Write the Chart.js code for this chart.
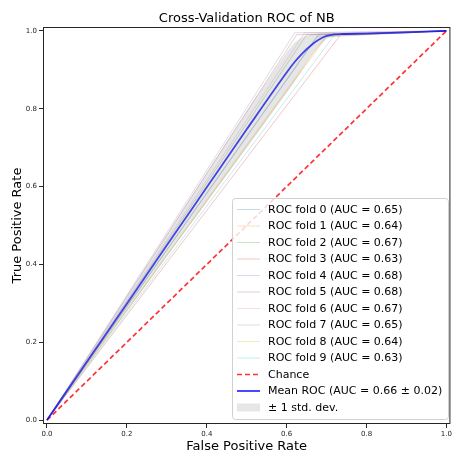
<!DOCTYPE html>
<html>
<head>
<meta charset="utf-8">
<script src="https://cdn.jsdelivr.net/npm/chart.js@4"></script>
<style>
  html, body { margin: 0; padding: 0; background: #fff; }
</style>
</head>
<body>
<canvas id="rocCanvas" width="454" height="453"></canvas>
<script>
// fold curves: (0,0) -> (fpr, tpr) -> (1,1)
var foldFpr = [0.68, 0.70, 0.65, 0.735, 0.62, 0.625, 0.645, 0.675, 0.70, 0.72];
var foldTpr = [0.99, 0.985, 0.99, 0.99, 0.995, 0.99, 0.995, 0.985, 0.99, 0.99];
var foldAuc = ['0.65', '0.64', '0.67', '0.63', '0.68', '0.68', '0.67', '0.65', '0.64', '0.63'];
var foldColors = ['31,119,180', '255,127,14', '44,160,44', '214,39,40', '148,103,189',
                  '140,86,75', '227,119,194', '127,127,127', '188,189,34', '23,190,207'];

var meanFpr = [0, 0.1, 0.2, 0.3, 0.4, 0.5, 0.6, 0.62, 0.64, 0.66, 0.68, 0.70, 0.72, 0.74, 0.8, 0.9, 1.0];
var meanTpr = [0, 0.150, 0.299, 0.449, 0.598, 0.747, 0.893, 0.920, 0.943, 0.962, 0.977, 0.987, 0.991, 0.992, 0.993, 0.996, 1.0];
var tprUpper = [0, 0.159, 0.318, 0.477, 0.636, 0.795, 0.945, 0.970, 0.984, 0.990, 0.994, 0.995, 0.995, 0.994, 0.995, 0.998, 1.0];
var tprLower = [0, 0.141, 0.280, 0.421, 0.560, 0.699, 0.841, 0.870, 0.902, 0.934, 0.960, 0.979, 0.987, 0.990, 0.991, 0.994, 1.0];

var tickVals = [0, 0.2, 0.4, 0.6, 0.8, 1.0];
var chartTitle = 'Cross-Validation ROC of NB';
var meanLabel = 'Mean ROC (AUC = 0.66 \u00b1 0.02)';
var bandLabel = '\u00b1 1 std. dev.';

function pts(xs, ys) {
    var out = [];
    for (var i = 0; i < xs.length; i++) out.push({x: xs[i], y: ys[i]});
    return out;
}

var datasets = [];
for (var i = 0; i < foldFpr.length; i++) {
    datasets.push({
        label: 'ROC fold ' + i + ' (AUC = ' + foldAuc[i] + ')',
        data: pts([0, foldFpr[i], 1], [0, foldTpr[i], 1]),
        borderColor: 'rgba(' + foldColors[i] + ',0.3)',
        borderWidth: 0.9,
        pointRadius: 0,
        fill: false,
        order: 20 - i
    });
}
datasets.push({
    label: 'Chance',
    data: pts([0, 1], [0, 1]),
    borderColor: 'rgba(255,0,0,0.8)',
    borderWidth: 1.7,
    borderDash: [5, 3],
    pointRadius: 0,
    fill: false,
    order: 5
});
datasets.push({
    label: meanLabel,
    data: pts(meanFpr, meanTpr),
    borderColor: 'rgba(0,0,255,0.8)',
    borderWidth: 1.8,
    cubicInterpolationMode: 'monotone',
    pointRadius: 0,
    fill: false,
    order: 4
});
datasets.push({
    label: '',
    data: pts(meanFpr, tprLower),
    borderWidth: 0,
    borderColor: 'rgba(0,0,0,0)',
    pointRadius: 0,
    fill: false,
    order: 3
});
datasets.push({
    label: bandLabel,
    data: pts(meanFpr, tprUpper),
    borderWidth: 0,
    borderColor: 'rgba(0,0,0,0)',
    backgroundColor: 'rgba(128,128,128,0.2)',
    pointRadius: 0,
    fill: '-1',
    order: 2
});

// title over the axes, axes box, legend in the lower right corner
var framePlugin = {
    id: 'frame',
    afterDraw: function(chart) {
        var a = chart.chartArea, ctx = chart.ctx;
        ctx.save();
        ctx.strokeStyle = '#262626';
        ctx.lineWidth = 1;
        ctx.strokeRect(a.left + 0.5, a.top + 0.5, a.right - a.left - 1, a.bottom - a.top - 1);

        ctx.fillStyle = '#000';
        ctx.font = '13px "DejaVu Sans"';
        ctx.textAlign = 'center';
        ctx.textBaseline = 'alphabetic';
        ctx.fillText(chartTitle, (a.left + a.right) / 2, 21.5);

        var bx = 232, by = 198, bw = 216, bh = 221;
        ctx.beginPath();
        ctx.roundRect(bx + 0.5, by + 0.5, bw, bh, 3);
        ctx.fillStyle = 'rgba(255,255,255,0.8)';
        ctx.fill();
        ctx.strokeStyle = '#d0d0d0';
        ctx.stroke();

        ctx.font = '11px "DejaVu Sans"';
        ctx.textBaseline = 'middle';
        ctx.textAlign = 'left';
        var row = 0;
        chart.data.datasets.forEach(function(ds) {
            if (!ds.label) return;
            var y = 209.5 + row * 16.5;
            if (ds.fill === '-1') {
                ctx.fillStyle = ds.backgroundColor;
                ctx.fillRect(237, y - 4, 23, 8);
            } else {
                ctx.beginPath();
                ctx.setLineDash(ds.borderDash || []);
                ctx.strokeStyle = ds.borderColor;
                ctx.lineWidth = ds.borderWidth;
                ctx.moveTo(237, y);
                ctx.lineTo(260, y);
                ctx.stroke();
                ctx.setLineDash([]);
            }
            ctx.fillStyle = '#000';
            ctx.fillText(ds.label, 268, y + 0.5);
            row++;
        });
        ctx.restore();
    }
};

var tickFont = {family: 'DejaVu Sans', size: 7};
var labelFont = {family: 'DejaVu Sans', size: 13, lineHeight: 1};

new Chart(document.getElementById('rocCanvas'), {
    type: 'line',
    data: {datasets: datasets},
    plugins: [framePlugin],
    options: {
        responsive: false,
        animation: false,
        layout: {padding: {top: 27, left: 0, right: 1, bottom: 0}},
        plugins: {
            legend: {display: false},
            tooltip: {enabled: false},
            title: {display: false}
        },
        scales: {
            x: {
                type: 'linear',
                min: -0.01,
                max: 1.01,
                afterBuildTicks: function(s) { s.ticks = tickVals.map(function(v) { return {value: v}; }); },
                afterFit: function(s) { s.height = 29; },
                ticks: {
                    color: '#222', font: tickFont, padding: 2, maxRotation: 0,
                    callback: function(v) { return v.toFixed(1); }
                },
                grid: {display: true, drawOnChartArea: false, drawTicks: true, tickLength: 4, color: '#262626'},
                border: {display: false},
                title: {display: true, text: 'False Positive Rate', color: '#000', font: labelFont, padding: {top: 0, bottom: 0}}
            },
            y: {
                type: 'linear',
                min: -0.01,
                max: 1.01,
                afterBuildTicks: function(s) { s.ticks = tickVals.map(function(v) { return {value: v}; }); },
                afterFit: function(s) { s.width = 43; },
                ticks: {
                    color: '#222', font: tickFont, padding: 2,
                    callback: function(v) { return v.toFixed(1); }
                },
                grid: {display: true, drawOnChartArea: false, drawTicks: true, tickLength: 4, color: '#262626'},
                border: {display: false},
                title: {display: true, text: 'True Positive Rate', color: '#000', font: labelFont, padding: {top: 11, bottom: 0}}
            }
        }
    }
});
</script>
</body>
</html>
